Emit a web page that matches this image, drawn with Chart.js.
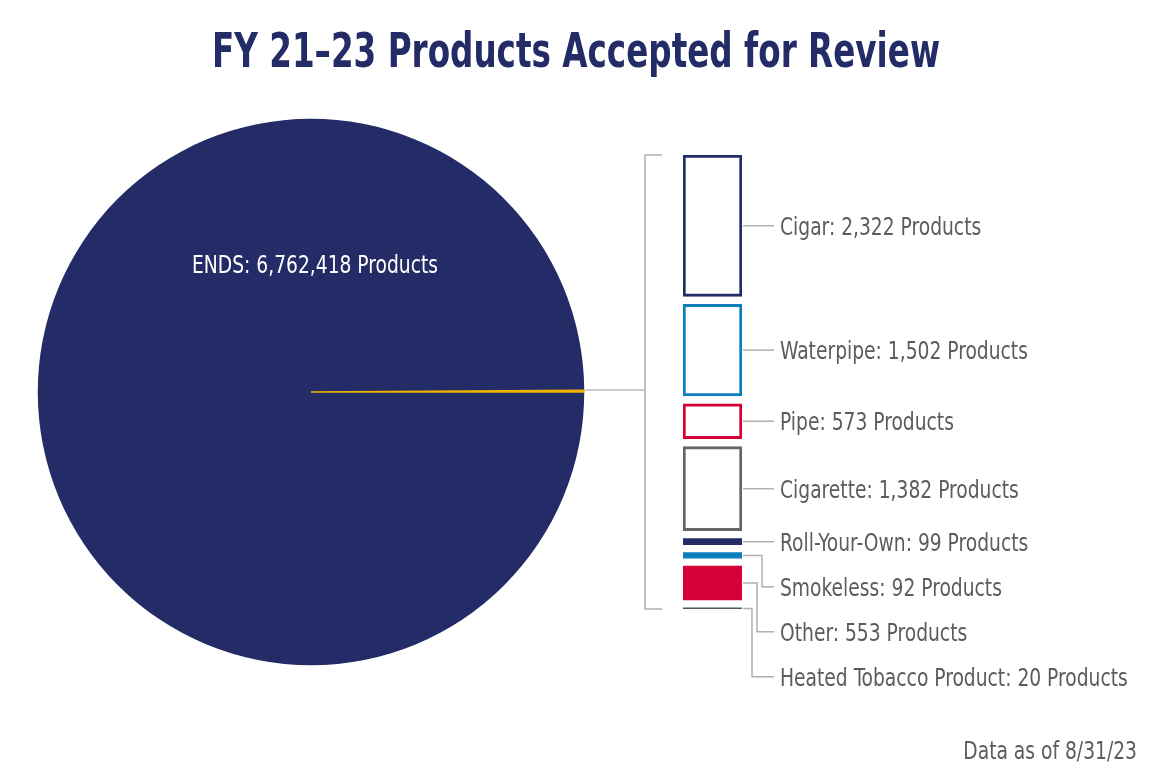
<!DOCTYPE html>
<html>
<head>
<meta charset="utf-8">
<script src="https://cdn.jsdelivr.net/npm/chart.js@4.4.1/dist/chart.umd.min.js"></script>
<style>
  body { margin: 0; background: #fff; }
  #wrap { position: relative; width: 1151px; height: 775px; }
  #wrap canvas { position: absolute; left: 0; top: 0; }
</style>
</head>
<body>
<div id="wrap">
  <canvas id="pieChart" width="1151" height="775"></canvas>
  <canvas id="barChart" width="1151" height="775"></canvas>
</div>
<script>
// data
var titleText = 'FY 21\u201323 Products Accepted for Review';
var noteText = 'Data as of 8/31/23';
var endsLabel = 'ENDS';
var endsCount = 6762418;
var categories = ['Cigar', 'Waterpipe', 'Pipe', 'Cigarette', 'Roll-Your-Own', 'Smokeless', 'Other', 'Heated Tobacco Product'];
var counts = [2322, 1502, 573, 1382, 99, 92, 553, 20];
var colors = ['#232c66', '#0a7fbb', '#d50036', '#666666', '#232c66', '#0a7fbb', '#d50036', '#555555'];
var filled = [false, false, false, false, true, true, true, true];

var navy = '#232c66';
var yellow = '#f0b400';
var textGray = '#5c5c5c';
var lineGray = '#b0b0b0';
var fontFam = "'Liberation Sans Narrow', 'DejaVu Sans Condensed', 'Roboto', sans-serif";

var gap = 130; // space between segments, in product units
var otherTotal = counts.reduce(function(a, b) { return a + b; }, 0);

var fmt = function(n) { return n.toLocaleString('en-US'); };
var labelOf = function(name, n) { return name + ': ' + fmt(n) + ' Products'; };

// condensed text: squeeze horizontally so a known string gets its measured width
var squeeze = function(ctx, font, sample, width) {
    ctx.font = font;
    return width / ctx.measureText(sample).width;
};
var drawText = function(ctx, str, x, y, align, sx) {
    ctx.save();
    ctx.translate(x, y);
    ctx.scale(sx, 1);
    ctx.textAlign = align;
    ctx.textBaseline = 'alphabetic';
    ctx.fillText(str, 0, 0);
    ctx.restore();
};

var labelFont = '24px ' + fontFam;
var titleFont = 'bold 48px ' + fontFam;

var bracketX = 645;

var pieText = {
    id: 'pieText',
    afterDraw: function(chart) {
        var ctx = chart.ctx;
        var arc = chart.getDatasetMeta(0).data[0];
        var sx = squeeze(ctx, labelFont, labelOf(endsLabel, endsCount), 246);

        ctx.fillStyle = navy;
        var tsx = squeeze(ctx, titleFont, titleText, 728);
        ctx.font = titleFont;
        drawText(ctx, titleText, 576, 67, 'center', tsx);

        ctx.font = labelFont;
        ctx.fillStyle = '#fff';
        drawText(ctx, labelOf(endsLabel, endsCount), arc.x + 4, arc.y - arc.outerRadius * 0.47 + 9, 'center', sx);

        ctx.fillStyle = textGray;
        drawText(ctx, noteText, 1137, 759, 'right', sx);

        // connector from the small slice to the bracket
        ctx.strokeStyle = '#cccccc';
        ctx.lineWidth = 2;
        ctx.beginPath();
        ctx.moveTo(arc.x + arc.outerRadius + 1, arc.y - 2);
        ctx.lineTo(bracketX, arc.y - 2);
        ctx.stroke();
    }
};

var pieChart = new Chart(document.getElementById('pieChart'), {
    type: 'pie',
    data: {
        labels: [endsLabel, 'All other products'],
        datasets: [{
            data: [endsCount, otherTotal],
            backgroundColor: [navy, yellow],
            borderColor: [navy, yellow],
            borderWidth: [0, 1.5],
            hoverOffset: 0
        }]
    },
    options: {
        responsive: false,
        animation: false,
        devicePixelRatio: 1,
        rotation: 90,
        layout: { padding: { left: 37, top: 118, right: 566, bottom: 109 } },
        plugins: { legend: { display: false }, tooltip: { enabled: false } }
    },
    plugins: [pieText]
});

// floating segments, top to bottom
var ranges = [];
var pos = 0;
counts.forEach(function(n) {
    ranges.push([pos, pos + n]);
    pos += n + gap;
});
var barMax = pos - gap;

var barLabels = {
    id: 'barLabels',
    afterDraw: function(chart) {
        var ctx = chart.ctx;
        var area = chart.chartArea;
        var sx = squeeze(ctx, labelFont, labelOf(endsLabel, endsCount), 246);

        // bracket
        ctx.strokeStyle = lineGray;
        ctx.lineWidth = 1.5;
        ctx.beginPath();
        ctx.moveTo(bracketX + 17, area.top);
        ctx.lineTo(bracketX, area.top);
        ctx.lineTo(bracketX, area.bottom);
        ctx.lineTo(bracketX + 17, area.bottom);
        ctx.stroke();

        var textX = 780;
        var lastY = -1000;
        var bent = 0;
        ctx.font = labelFont;
        categories.forEach(function(cat, i) {
            var bar = chart.getDatasetMeta(i).data[0];
            var mid = (bar.y + bar.base) / 2;
            var ly = Math.max(mid, lastY + 45);
            var right = bar.x + bar.width / 2 + 1;
            ctx.strokeStyle = lineGray;
            ctx.lineWidth = 1.5;
            ctx.beginPath();
            if (ly > mid + 1) {
                var ex = 762 - bent * 5;
                bent++;
                ctx.moveTo(right, mid);
                ctx.lineTo(ex, mid);
                ctx.lineTo(ex, ly);
                ctx.lineTo(textX - 6, ly);
            } else {
                ctx.moveTo(right, mid);
                ctx.lineTo(textX - 6, mid);
            }
            ctx.stroke();
            ctx.fillStyle = textGray;
            drawText(ctx, labelOf(cat, counts[i]), textX, ly + 9, 'left', sx);
            lastY = ly;
        });
    }
};

var barChart = new Chart(document.getElementById('barChart'), {
    type: 'bar',
    data: {
        labels: ['Other products'],
        datasets: categories.map(function(cat, i) {
            return {
                label: cat,
                data: [ranges[i]],
                backgroundColor: filled[i] ? colors[i] : '#ffffff',
                borderColor: colors[i],
                borderWidth: filled[i] ? 0 : 3,
                borderSkipped: false,
                grouped: false,
                categoryPercentage: 1,
                barPercentage: 1
            };
        })
    },
    options: {
        responsive: false,
        animation: false,
        devicePixelRatio: 1,
        layout: { padding: { left: 683, right: 409, top: 155, bottom: 166 } },
        scales: {
            x: { display: false },
            y: { display: false, min: 0, max: barMax, reverse: true }
        },
        plugins: { legend: { display: false }, tooltip: { enabled: false } }
    },
    plugins: [barLabels]
});
</script>
</body>
</html>
